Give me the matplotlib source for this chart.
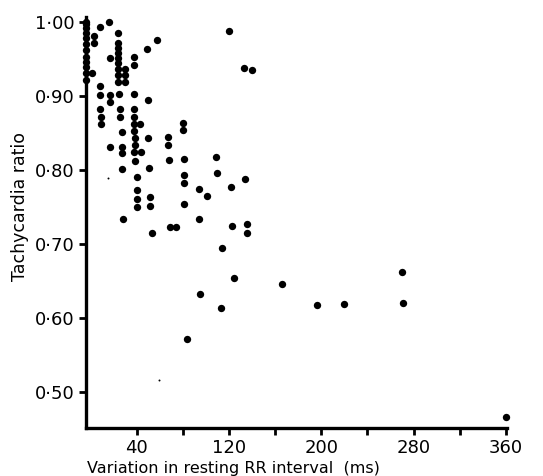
import numpy as np
import matplotlib
matplotlib.use("Agg")
import matplotlib.pyplot as plt

# values: RR variation (ms) vs tachycardia ratio
rr_var = [-4, -4, -4, -4, -4, -4, -4, -4, -4, -4, -4, -4,
          1, 8, 16, 3, 3,
          24, 24, 24, 24, 24, 24, 24, 24, 24,
          30, 30, 30,
          17, 38, 38, 49, 58,
          8, 8, 17, 25, 38,
          17, 50,
          8, 26, 38,
          9, 26, 38,
          9, 38, 43,
          27, 38,
          39, 50,
          67, 67,
          17, 27, 39,
          27, 38, 44,
          39, 68,
          27, 51,
          40,
          40, 40, 40,
          52, 52,
          28, 53, 69, 74,
          80, 80,
          81, 109,
          81, 110,
          81,
          94, 101, 122,
          134,
          81,
          94, 123, 136, 136,
          114,
          124, 166, 270,
          95, 113,
          196, 220, 271,
          84,
          120, 133, 140,
          360]
tach_ratio = [1.00, 0.997, 0.991, 0.984, 0.978, 0.970, 0.962, 0.952, 0.945, 0.939, 0.931, 0.921,
              0.931, 0.993, 1.00, 0.980, 0.971,
              0.984, 0.971, 0.964, 0.957, 0.951, 0.944, 0.936, 0.928, 0.918,
              0.936, 0.928, 0.918,
              0.951, 0.952, 0.941, 0.963, 0.975,
              0.913, 0.901, 0.901, 0.902, 0.902,
              0.891, 0.894,
              0.882, 0.882, 0.882,
              0.871, 0.871, 0.871,
              0.862, 0.862, 0.862,
              0.851, 0.852,
              0.843, 0.843,
              0.844, 0.833,
              0.831, 0.831, 0.833,
              0.823, 0.824, 0.824,
              0.812, 0.813,
              0.801, 0.802,
              0.790,
              0.773, 0.760, 0.750,
              0.763, 0.751,
              0.733, 0.715, 0.723, 0.723,
              0.863, 0.854,
              0.814, 0.817,
              0.793, 0.796,
              0.782,
              0.774, 0.765, 0.777,
              0.787,
              0.754,
              0.733, 0.724, 0.727, 0.715,
              0.694,
              0.654, 0.646, 0.661,
              0.632, 0.613,
              0.617, 0.619, 0.620,
              0.571,
              0.987, 0.937, 0.935,
              0.466]

# tiny specks on the scan
speck_x = [59, 15]
speck_y = [0.516, 0.789]

yticks = [0.5, 0.6, 0.7, 0.8, 0.9, 1.0]
ytick_labels = ["0·50", "0·60", "0·70", "0·80", "0·90", "1·00"]
xticks = [40, 80, 120, 160, 200, 240, 280, 320, 360]
xtick_labels = ["40", "", "120", "", "200", "", "280", "", "360"]

fig = plt.figure(figsize=(5.43, 4.76), dpi=100)
ax = fig.add_axes([0.158, 0.101, 0.776, 0.863])

ax.scatter(rr_var, tach_ratio, s=28, color="black", linewidths=0, clip_on=False, zorder=3)
ax.scatter(speck_x, speck_y, s=2, color="black", linewidths=0, zorder=3)

ax.set_xlim(-4, 361)
ax.set_ylim(0.451, 1.006)

ax.spines["top"].set_visible(False)
ax.spines["right"].set_visible(False)
ax.spines["left"].set_linewidth(2.4)
ax.spines["bottom"].set_linewidth(2.4)

ax.set_yticks(yticks)
ax.set_yticklabels(ytick_labels)
ax.set_xticks(xticks)
ax.set_xticklabels(xtick_labels)
ax.tick_params(axis="both", direction="out", length=5, width=2, labelsize=13, pad=3)

ax.set_ylabel("Tachycardia ratio", fontsize=12.5)
ax.yaxis.set_label_coords(-0.135, 0.54)
ax.set_xlabel("Variation in resting RR interval  (ms)", fontsize=11.5)
ax.xaxis.set_label_coords(0.35, -0.08)

fig.savefig("out.png", dpi=100)
